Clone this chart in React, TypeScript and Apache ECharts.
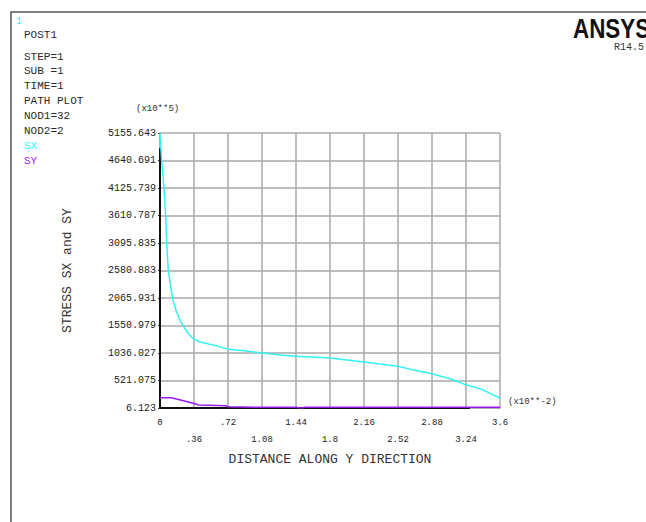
import React, { useEffect, useRef } from "react";
import * as echarts from "echarts";

const xTickLabels = [
  "0", ".36", ".72", "1.08", "1.44", "1.8", "2.16", "2.52", "2.88", "3.24", "3.6",
];
const yTickLabels = [
  "6.123", "521.075", "1036.027", "1550.979", "2065.931", "2580.883",
  "3095.835", "3610.787", "4125.739", "4640.691", "5155.643",
];
const xMin = 0;
const xMax = 3.6;
const xStep = 0.36;
const yMin = 6.123;
const yMax = 5155.643;
const yStep = 514.952;

const sxDistance = [
  0, 0.018, 0.042, 0.06, 0.071, 0.088, 0.134, 0.169, 0.212, 0.247, 0.3, 0.353,
  0.424, 0.582, 0.72, 0.918, 1.08, 1.306, 1.44, 1.8, 2.16, 2.52, 2.7, 2.88,
  3.07, 3.24, 3.4, 3.6,
];
const sxValues = [
  5155.6, 4631, 4126, 3601, 3096, 2571, 2053, 1835, 1648, 1541, 1398, 1304,
  1242, 1179, 1105, 1075, 1036, 992, 973, 942, 867, 786, 711, 649, 555, 440,
  360, 193,
];

const syDistance = [
  0, 0.12, 0.25, 0.35, 0.41, 0.7, 0.72, 1.0, 1.44, 1.49, 1.51, 1.53, 2.0, 2.5,
  3.0, 3.6,
];
const syValues = [
  199, 199, 143, 94, 62, 49, 30, 22, 20, 6.123, 6.123, 20, 20, 20, 20, 20,
];

// black axis trace drawn by ANSYS along the left and bottom edges
const axisTraceDistance = [0, 0, 3.28];
const axisTraceValues = [4870, 6.123, 6.123];

const infoLines = [
  "POST1",
  "",
  "STEP=1",
  "SUB =1",
  "TIME=1",
  "PATH PLOT",
  "NOD1=32",
  "NOD2=2",
];

const MONO = "'Liberation Mono', 'DejaVu Sans Mono', monospace";
const CYAN = "#30f4f4";
const PURPLE = "#9a1cf0";

function pairs(xs: number[], ys: number[]) {
  return xs.map((x, i) => [x, ys[i]]);
}

export default function App() {
  const ref = useRef<HTMLDivElement>(null);

  useEffect(() => {
    document.body.style.margin = "0";
    if (!ref.current) return;
    const chart = echarts.init(ref.current, null, { renderer: "svg" });

    const infoY = [35, 46, 57, 71, 86, 101, 116, 131];
    const infoTexts: any[] = [];
    infoLines.forEach((t, i) => {
      if (!t) return;
      infoTexts.push({
        type: "text",
        left: 24,
        top: infoY[i] - 6,
        style: { text: t, font: `11px ${MONO}`, fill: "#2a2a2a" },
      });
    });

    chart.setOption({
      animation: false,
      backgroundColor: "#ffffff",
      grid: { left: 160, top: 133, width: 340, height: 275, containLabel: false },
      xAxis: {
        type: "value",
        min: xMin,
        max: xMax,
        interval: xStep,
        axisLine: { show: true, lineStyle: { color: "#a8a8a8", width: 1.5 } },
        axisTick: { show: false },
        splitLine: { show: true, lineStyle: { color: "#a8a8a8", width: 1.5 } },
        axisLabel: {
          showMinLabel: true,
          showMaxLabel: true,
          margin: 6,
          fontFamily: MONO,
          fontSize: 9,
          lineHeight: 17,
          color: "#222",
          formatter: (v: number) => {
            const i = Math.round((v - xMin) / xStep);
            const t = xTickLabels[i] ?? String(v);
            return i % 2 === 1 ? "\n" + t : t;
          },
        },
        name: "DISTANCE ALONG Y DIRECTION",
        nameLocation: "middle",
        nameGap: 30,
        nameTextStyle: { fontFamily: MONO, fontSize: 13, color: "#333" },
      },
      yAxis: {
        type: "value",
        min: yMin,
        max: yMax,
        interval: yStep,
        axisLine: { show: true, lineStyle: { color: "#a8a8a8", width: 1.5 } },
        axisTick: { show: true, length: 2, lineStyle: { color: "#333" } },
        splitLine: { show: true, lineStyle: { color: "#a8a8a8", width: 1.5 } },
        axisLabel: {
          showMinLabel: true,
          showMaxLabel: true,
          margin: 4,
          fontFamily: MONO,
          fontSize: 10,
          color: "#222",
          formatter: (v: number) => {
            const i = Math.round((v - yMin) / yStep);
            return yTickLabels[i] ?? v.toFixed(3);
          },
        },
        name: "STRESS SX and SY",
        nameLocation: "middle",
        nameRotate: 90,
        nameGap: 86,
        nameTextStyle: { fontFamily: MONO, fontSize: 13, color: "#333" },
      },
      series: [
        {
          name: "axis",
          type: "line",
          data: pairs(axisTraceDistance, axisTraceValues),
          showSymbol: false,
          lineStyle: { color: "#111", width: 2 },
          z: 2,
          silent: true,
        },
        {
          name: "SX",
          type: "line",
          data: pairs(sxDistance, sxValues),
          showSymbol: false,
          lineStyle: { color: CYAN, width: 1.5 },
          z: 3,
        },
        {
          name: "SY",
          type: "line",
          data: pairs(syDistance, syValues),
          showSymbol: false,
          lineStyle: { color: PURPLE, width: 1.5 },
          z: 4,
        },
      ],
      graphic: [
        {
          type: "rect",
          shape: { x: 11, y: 12, width: 700, height: 600 },
          style: { fill: "none", stroke: "#555", lineWidth: 1.5 },
          silent: true,
        },
        {
          type: "text",
          left: 16,
          top: 16,
          style: { text: "1", font: `10px ${MONO}`, fill: CYAN },
        },
        ...infoTexts,
        {
          type: "text",
          left: 24,
          top: 140,
          style: { text: "SX", font: `11px ${MONO}`, fill: CYAN },
        },
        {
          type: "text",
          left: 24,
          top: 155,
          style: { text: "SY", font: `11px ${MONO}`, fill: PURPLE },
        },
        {
          type: "text",
          x: 573,
          y: 14,
          scaleX: 0.8,
          style: {
            text: "ANSYS",
            font: "bold 28px 'Liberation Sans', Arial, sans-serif",
            fill: "#111",
          },
        },
        {
          type: "text",
          left: 614,
          top: 42,
          style: { text: "R14.5", font: `10px ${MONO}`, fill: "#333" },
        },
        {
          type: "text",
          left: 136,
          top: 104,
          style: { text: "(x10**5)", font: `9px ${MONO}`, fill: "#333" },
        },
        {
          type: "text",
          left: 508,
          top: 397,
          style: { text: "(x10**-2)", font: `9px ${MONO}`, fill: "#333" },
        },
      ],
    });

    return () => chart.dispose();
  }, []);

  return (
    <div
      ref={ref}
      style={{ position: "absolute", left: 0, top: 0, width: 646, height: 522 }}
    />
  );
}
